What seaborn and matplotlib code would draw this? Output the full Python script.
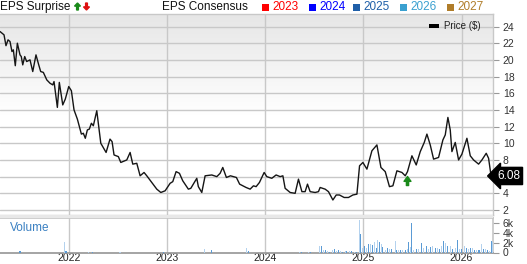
import numpy as np
import pandas as pd
import matplotlib
matplotlib.use("Agg")
import matplotlib.pyplot as plt
import matplotlib.transforms as mtransforms
from matplotlib.patches import Rectangle, FancyArrow
from matplotlib.colors import LinearSegmentedColormap
import seaborn as sns

# ---------------- data ----------------
price_t = [2021.293, 2021.334, 2021.354, 2021.375, 2021.395, 2021.415, 2021.429, 2021.449, 2021.470, 2021.497,
           2021.510, 2021.525, 2021.545, 2021.565, 2021.599, 2021.627, 2021.660, 2021.688, 2021.708, 2021.735,
           2021.770, 2021.803, 2021.831, 2021.844, 2021.878, 2021.898, 2021.933, 2021.959, 2021.994, 2022.021,
           2022.048, 2022.082, 2022.123, 2022.143, 2022.163, 2022.184, 2022.204, 2022.225, 2022.245, 2022.280,
           2022.321, 2022.375, 2022.415, 2022.436, 2022.456, 2022.500, 2022.525, 2022.586, 2022.620, 2022.647,
           2022.688, 2022.722, 2022.762, 2022.790, 2022.841, 2022.892, 2022.933, 2022.977, 2023.028, 2023.055,
           2023.089, 2023.123, 2023.157, 2023.214, 2023.239, 2023.300, 2023.316, 2023.351, 2023.385, 2023.453,
           2023.504, 2023.538, 2023.565, 2023.602, 2023.643, 2023.704, 2023.737, 2023.803, 2023.844, 2023.878,
           2023.905, 2023.939, 2023.987, 2024.014, 2024.065, 2024.109, 2024.150, 2024.178, 2024.201, 2024.252,
           2024.303, 2024.337, 2024.372, 2024.405, 2024.429, 2024.456, 2024.507, 2024.541, 2024.558, 2024.609,
           2024.643, 2024.688, 2024.722, 2024.755, 2024.803, 2024.847, 2024.892, 2024.933, 2024.960, 2024.994,
           2025.035, 2025.086, 2025.137, 2025.178, 2025.222, 2025.265, 2025.300, 2025.341, 2025.392, 2025.426,
           2025.449, 2025.494, 2025.538, 2025.579, 2025.620, 2025.647, 2025.681, 2025.715, 2025.766, 2025.810,
           2025.834, 2025.861, 2025.885, 2025.902, 2025.936, 2025.970, 2026.004, 2026.055, 2026.089, 2026.123,
           2026.174, 2026.208, 2026.252, 2026.276, 2026.300, 2026.321]
price_v = [23.4, 23.0, 21.7, 22.4, 22.2, 21.0, 21.2, 19.3, 22.0, 20.6,
           20.4, 19.4, 20.4, 19.8, 20.0, 18.6, 20.6, 19.4, 18.6, 18.5,
           17.6, 17.2, 17.0, 17.4, 14.3, 17.3, 14.6, 15.3, 16.8, 16.3,
           14.0, 12.9, 11.1, 11.2, 10.6, 11.6, 11.7, 12.4, 12.1, 13.9,
           10.0, 8.9, 10.5, 10.2, 8.6, 8.4, 7.7, 8.0, 8.9, 7.5,
           7.6, 6.1, 6.5, 6.1, 5.3, 4.5, 4.1, 4.3, 5.2, 5.4,
           6.6, 6.4, 5.5, 4.5, 4.6, 5.8, 4.8, 4.1, 6.1, 6.2,
           6.0, 6.4, 7.1, 5.9, 6.1, 5.9, 5.1, 4.7, 4.5, 4.9,
           4.8, 5.3, 6.5, 6.0, 5.8, 6.2, 6.0, 6.1, 4.6, 4.1,
           4.0, 5.7, 4.2, 4.2, 5.1, 4.2, 4.1, 4.2, 4.7, 4.5,
           4.2, 3.2, 3.8, 3.8, 3.5, 3.5, 3.8, 3.9, 7.3, 7.7,
           6.9, 9.1, 9.8, 7.1, 6.6, 4.8, 4.9, 6.7, 6.5, 6.1,
           6.6, 8.5, 7.4, 9.0, 10.1, 11.1, 9.8, 8.1, 8.3, 10.4,
           11.0, 13.1, 11.6, 9.0, 10.1, 8.0, 8.7, 10.6, 8.5, 8.0,
           7.5, 8.0, 8.8, 8.2, 6.2, 6.08]
last_price = 6.08

vol_t = [2021.497, 2021.949, 2021.966, 2022.191, 2022.232, 2022.517, 2022.956, 2023.375, 2023.453, 2023.810,
         2023.827, 2024.344, 2024.372, 2024.439, 2024.456, 2024.551, 2024.572, 2024.592, 2024.613, 2024.633,
         2024.653, 2024.681, 2024.701, 2024.722, 2024.745, 2024.762, 2024.790, 2024.813, 2024.830, 2024.857,
         2024.882, 2024.905, 2024.926, 2024.956, 2024.974, 2024.990, 2025.007, 2025.028, 2025.051, 2025.068,
         2025.092, 2025.112, 2025.130, 2025.147, 2025.163, 2025.181, 2025.198, 2025.222, 2025.245, 2025.265,
         2025.286, 2025.324, 2025.341, 2025.361, 2025.382, 2025.402, 2025.426, 2025.449, 2025.459, 2025.477,
         2025.494, 2025.510, 2025.538, 2025.561, 2025.592, 2025.613, 2025.640, 2025.664, 2025.688, 2025.708,
         2025.732, 2025.756, 2025.776, 2025.796, 2025.817, 2025.837, 2025.861, 2025.885, 2025.912, 2025.936,
         2025.960, 2025.980, 2026.004, 2026.031, 2026.048, 2026.072, 2026.096, 2026.116, 2026.137, 2026.157,
         2026.178, 2026.201, 2026.225, 2026.245, 2026.265, 2026.286, 2026.306, 2026.317]
vol_k = [0.35, 2.2, 0.3, 0.2, 0.2, 0.2, 0.1, 0.7, 0.5, 0.95,
         0.35, 0.15, 0.1, 0.15, 0.15, 1.3, 1.3, 0.6, 0.6, 0.35,
         0.2, 0.45, 0.75, 0.35, 0.55, 0.35, 0.2, 0.35, 0.25, 0.35,
         0.35, 0.2, 0.2, 6.7, 3.9, 1.0, 1.3, 1.0, 1.7, 1.7,
         1.5, 2.2, 1.0, 2.6, 2.2, 1.7, 1.2, 0.6, 1.0, 0.75,
         0.8, 2.4, 0.6, 0.5, 0.6, 0.5, 0.6, 0.7, 2.2, 1.1,
         6.1, 0.6, 0.7, 0.75, 2.0, 0.9, 1.3, 0.8, 1.1, 1.3,
         0.9, 1.0, 0.8, 1.3, 2.4, 2.0, 1.3, 1.3, 0.8, 1.0,
         2.6, 0.75, 0.8, 1.3, 1.0, 0.75, 0.95, 0.9, 0.6, 0.6,
         0.6, 1.7, 0.7, 0.7, 0.5, 0.35, 2.4, 2.2]

surprise_t = [2025.449]
surprise_dir = ["up"]

years = [2022, 2023, 2024, 2025, 2026]
price_ticks = [2, 4, 6, 8, 10, 12, 14, 16, 18, 20, 22, 24]
price_labels = ["2", "4", "", "8", "10", "12", "14", "16", "18", "20", "22", "24"]
vol_ticks = [0, 2, 4, 6]
vol_labels = ["0", "2k", "4k", "6k"]
legend_years = ["2023", "2024", "2025", "2026", "2027"]
legend_colors = ["#ff0000", "#0000ff", "#1f5fa8", "#3aa0d0", "#b07d2a"]

# ---------------- style ----------------
sns.set_theme(style="white")
plt.rcParams["font.family"] = ["Liberation Sans", "DejaVu Sans"]

W, H = 527, 264
fig = plt.figure(figsize=(W / 100, H / 100), dpi=100)
fig.patch.set_facecolor("white")


def fx(px):
    return px / W


def fy(py):
    return 1 - py / H


x0, x1 = 2021.293, 2026.321
ax = fig.add_axes([0, fy(215), fx(493), fy(14) - fy(215)])
axv = fig.add_axes([0, fy(252.5), fx(493), fy(218) - fy(252.5)])

grid_c = "#c8c8c8"

# gradient background
grad = np.linspace(0, 1, 256).reshape(-1, 1)
cmap = LinearSegmentedColormap.from_list("bg", [(0, "#e6e6e6"), (0.5, "#ffffff"), (1, "#ffffff")])
ax.imshow(grad, extent=[0, 1, 0, 1], transform=ax.transAxes, aspect="auto", cmap=cmap,
          origin="upper", zorder=0)

df = pd.DataFrame({"t": price_t, "price": price_v})
sns.lineplot(data=df, x="t", y="price", ax=ax, color="#151515", lw=1.0, zorder=3)

ax.set_xlim(x0, x1)
ax.set_ylim(1.4, 25.5)
ax.set_xticks(years)
ax.set_yticks(price_ticks)
ax.set_yticklabels(price_labels)
ax.grid(True, color=grid_c, lw=1.0, zorder=1)
ax.set_axisbelow(True)
ax.yaxis.tick_right()
ax.tick_params(axis="y", direction="out", length=4, width=0.8, color="#999999",
               labelsize=7.5, labelcolor="#333333", pad=3)
ax.tick_params(axis="x", length=0, labelbottom=False)
ax.set_xlabel("")
ax.set_ylabel("")
ax.spines["left"].set_visible(False)
for s in ["top", "right", "bottom"]:
    ax.spines[s].set_color(grid_c)
    ax.spines[s].set_linewidth(1.0)

# last price tag
trans = mtransforms.blended_transform_factory(ax.transAxes, ax.transData)
ax.text(1.008, last_price, f"{last_price:.2f}", transform=trans, color="white", fontsize=8.5,
        va="center", ha="left", zorder=10, clip_on=False,
        bbox=dict(boxstyle="larrow,pad=0.22", fc="black", ec="black"))

# EPS surprise arrows (below the price line)
for t, d in zip(surprise_t, surprise_dir):
    pv = float(np.interp(t, price_t, price_v))
    col = "#1a8a1a" if d == "up" else "#dd1111"
    tip = mtransforms.offset_copy(ax.transData, fig=fig, x=0, y=-3.5, units="points")
    ax.annotate("", xy=(t, pv), xycoords=tip, xytext=(0, -6.5), textcoords="offset points",
                arrowprops=dict(width=1.6, headwidth=5, headlength=3.5, color=col, shrink=0),
                zorder=6)

# legend "Price ($)"
fig.patches.append(Rectangle((fx(429), fy(28)), fx(10), fy(24) - fy(28), transform=fig.transFigure,
                             fc="black", ec="none", zorder=8))
fig.text(fx(444), fy(26), "Price ($)", fontsize=7, color="#222222", va="center", ha="left")

# volume
colors = ["#5b9bd5" if i % 2 == 0 else "#b4d2ee" for i in range(len(vol_t))]
axv.bar(vol_t, vol_k, width=0.011, color=colors, linewidth=0, zorder=3)
axv.set_xlim(x0, x1)
axv.set_ylim(0, 7.1)
axv.set_xticks(years)
axv.set_xticklabels([str(y) for y in years])
axv.set_yticks(vol_ticks)
axv.set_yticklabels(vol_labels)
axv.grid(True, axis="x", color=grid_c, lw=1.0, zorder=1)
axv.set_axisbelow(True)
axv.yaxis.tick_right()
axv.tick_params(axis="y", direction="out", length=4, width=0.8, color="#999999",
                labelsize=7.5, labelcolor="#333333", pad=3)
axv.tick_params(axis="x", length=0, labelsize=7.5, labelcolor="#222222", pad=0.5)
axv.spines["left"].set_visible(False)
axv.spines["right"].set_color(grid_c)
axv.spines["top"].set_color(grid_c)
axv.spines["bottom"].set_color("#999999")
axv.set_facecolor("white")
axv.text(fx(10) / fx(493), 0.7, "Volume", transform=axv.transAxes, fontsize=8.5,
         color="#3a80c2", va="center", ha="left")

# separator band
fig.patches.append(Rectangle((0, fy(218)), fx(493), fy(215) - fy(218), transform=fig.transFigure,
                             fc="#e8e8e8", ec="none", zorder=0))

# header
fig.text(0, fy(7), "EPS Surprise", fontsize=8.5, color="#111111", va="center", ha="left")
fig.patches.append(FancyArrow(fx(77.5), fy(10), 0, fy(3) - fy(10), width=fx(1.8),
                              head_width=fx(6), head_length=(fy(3) - fy(10)) * 0.45,
                              length_includes_head=True, transform=fig.transFigure, color="#1a8a1a"))
fig.patches.append(FancyArrow(fx(86.5), fy(3), 0, fy(10) - fy(3), width=fx(1.8),
                              head_width=fx(6), head_length=(fy(3) - fy(10)) * 0.45,
                              length_includes_head=True, transform=fig.transFigure, color="#dd1111"))
fig.text(fx(162), fy(7), "EPS Consensus", fontsize=8.5, color="#111111", va="center", ha="left")
sq_x = [262, 309, 353, 400, 447]
for xs, lab, c in zip(sq_x, legend_years, legend_colors):
    fig.patches.append(Rectangle((fx(xs), fy(10.5)), fx(7), fy(3.5) - fy(10.5), transform=fig.transFigure,
                                 fc=c, ec="none"))
    fig.text(fx(xs + 10), fy(7), lab, fontsize=8.5, color=c, va="center", ha="left")

fig.savefig("out.png", dpi=100)
